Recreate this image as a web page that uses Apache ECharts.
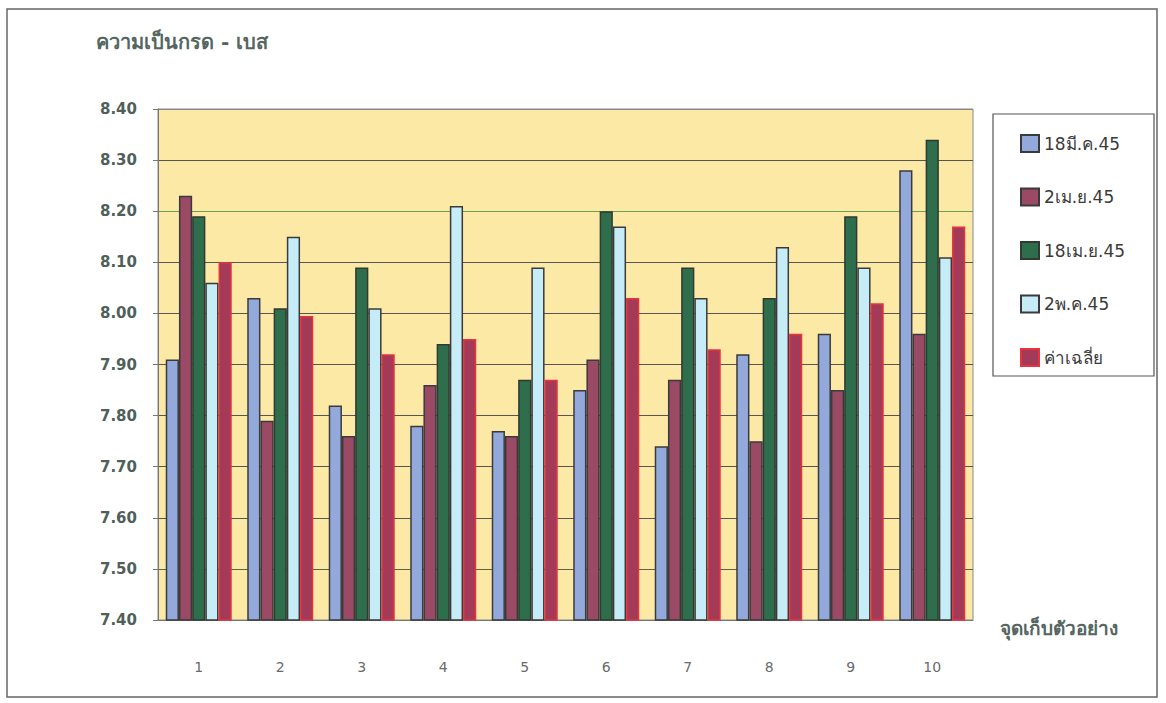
<!DOCTYPE html>
<html>
<head>
<meta charset="utf-8">
<script src="https://cdn.jsdelivr.net/npm/echarts@6/dist/echarts.min.js"></script>
<style>
  html, body { margin: 0; padding: 0; background: #ffffff; }
  #chart { width: 1166px; height: 703px; }
</style>
</head>
<body>
<div id="chart"></div>
<script>
// Sampling points 1–10 along the x axis
const categories = ['1', '2', '3', '4', '5', '6', '7', '8', '9', '10'];

// pH readings per sampling date
const seriesNames = ['18มี.ค.45', '2เม.ย.45', '18เม.ย.45', '2พ.ค.45', 'ค่าเฉลี่ย'];
const mar18 = [7.91, 8.03, 7.82, 7.78, 7.77, 7.85, 7.74, 7.92, 7.96, 8.28];
const apr2  = [8.23, 7.79, 7.76, 7.86, 7.76, 7.91, 7.87, 7.75, 7.85, 7.96];
const apr18 = [8.19, 8.01, 8.09, 7.94, 7.87, 8.20, 8.09, 8.03, 8.19, 8.34];
const may2  = [8.06, 8.15, 8.01, 8.21, 8.09, 8.17, 8.03, 8.13, 8.09, 8.11];
const mean  = [8.10, 7.995, 7.92, 7.95, 7.87, 8.03, 7.93, 7.96, 8.02, 8.17];

// Y-axis ticks
const yMin = 7.4;
const yMax = 8.4;
const yStep = 0.1;

const yTitle = 'ความเป็นกรด - เบส';
const xTitle = 'จุดเก็บตัวอย่าง';

const FONT = '"DejaVu Sans", Verdana, sans-serif';
const TEXT_COL = '#4f5f5a';

const fills   = ['#93a9dc', '#9b4a66', '#2f6e4c', '#c6ecf7', '#a23a58'];
const borders = ['#3a3a3a', '#3a3a3a', '#2e3a32', '#3a3a3a', '#e8333f'];
const values  = [mar18, apr2, apr18, may2, mean];

// grid lines: one colour per tick starting from 7.40; the 8.20 line is green
const gridColors = ['#555', '#5b6448', '#555', '#555', '#555', '#555', '#555', '#555', '#6aa050', '#555', '#888'];

const chart = echarts.init(document.getElementById('chart'), null, { renderer: 'svg' });

const series = seriesNames.map((name, i) => ({
  name: name,
  type: 'bar',
  data: values[i],
  barGap: '0%',
  barCategoryGap: '19%',
  itemStyle: { color: fills[i], borderColor: borders[i], borderWidth: 1.5 },
  emphasis: { disabled: true }
}));

chart.setOption({
  animation: false,
  backgroundColor: '#ffffff',
  title: {
    text: yTitle,
    left: 96,
    top: 32,
    padding: 0,
    textStyle: { fontFamily: FONT, fontSize: 20, fontWeight: 'bold', color: '#55655f' }
  },
  grid: {
    left: 158, right: 193, top: 109, bottom: 83,
    show: true,
    backgroundColor: '#fce9a6',
    borderColor: '#888',
    borderWidth: 1
  },
  legend: {
    orient: 'vertical',
    left: 1020,
    top: 134,
    padding: 0,
    itemWidth: 18,
    itemHeight: 17,
    itemGap: 34.5,
    icon: 'rect',
    selectedMode: false,
    textStyle: { fontFamily: FONT, fontSize: 17, color: '#3a3a3a' },
    data: seriesNames
  },
  xAxis: {
    type: 'category',
    data: categories,
    axisLine: { lineStyle: { color: '#777', width: 1 } },
    axisTick: { length: 5, lineStyle: { color: '#777' } },
    axisLabel: { fontFamily: FONT, fontSize: 14, color: '#6a6a6a', margin: 40 },
    splitLine: { show: false }
  },
  yAxis: {
    type: 'value',
    min: yMin,
    max: yMax,
    interval: yStep,
    axisLine: { show: true, lineStyle: { color: '#777', width: 1 } },
    axisTick: { show: true, length: 5, lineStyle: { color: '#777' } },
    axisLabel: {
      fontFamily: FONT, fontSize: 15, fontWeight: 'bold', color: TEXT_COL, margin: 21,
      formatter: v => v.toFixed(2)
    },
    splitLine: { show: true, lineStyle: { color: gridColors, width: 1.2 } }
  },
  graphic: [
    // outer chart frame
    { type: 'rect', silent: true, z: -1,
      shape: { x: 7, y: 9, width: 1150, height: 688 },
      style: { fill: 'none', stroke: '#666', lineWidth: 1.5 } },
    // legend frame
    { type: 'rect', silent: true,
      shape: { x: 993, y: 114, width: 161, height: 262 },
      style: { fill: 'none', stroke: '#555', lineWidth: 1.2 } },
    // x-axis title
    { type: 'text', silent: true, left: 1000, top: 618,
      style: { text: xTitle, font: 'bold 19px ' + FONT, fill: '#55655f' } }
  ],
  series: series
});
</script>
</body>
</html>
